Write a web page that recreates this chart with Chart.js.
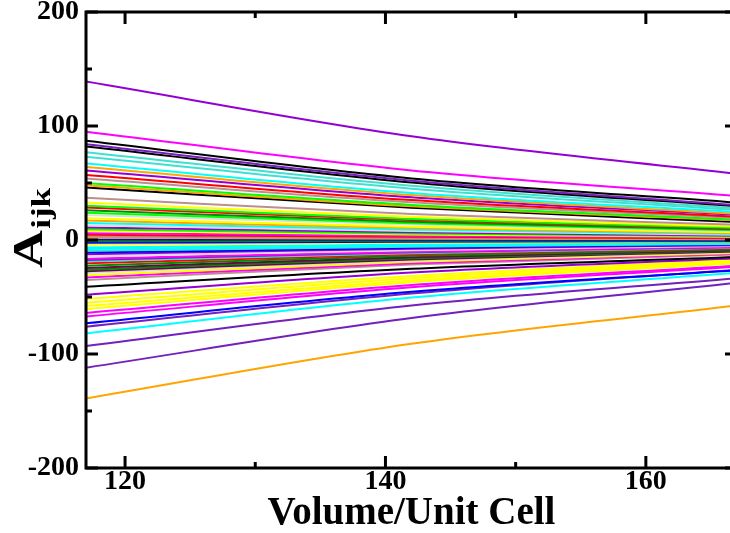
<!DOCTYPE html>
<html>
<head>
<meta charset="utf-8">
<script src="https://cdn.jsdelivr.net/npm/chart.js@4/dist/chart.umd.min.js"></script>
<style>
  html, body { margin: 0; padding: 0; background: #fff; overflow: hidden; width: 730px; height: 533px; }
  #wrap { width: 745px; height: 533px; position: relative; }
</style>
</head>
<body>
<div id="wrap"><canvas id="chart"></canvas></div>
<script>
// Volumes (x) at which each coefficient curve is sampled
const volumes = [117, 142, 167];

// Axis ticks
const xMajorTicks = [120, 140, 160];
const xMinorTicks = [130, 150];
const yMajorTicks = [-200, -100, 0, 100, 200];
const yMinorTicks = [-150, -50, 50, 150];

// Grace-style colour names
const C = {
  black: '#000000', red: '#ff0000', green: '#00ff00', blue: '#0000ff',
  yellow: '#ffff00', brown: '#bc8f8f', grey: '#dcdcdc', violet: '#9400d3',
  cyan: '#00ffff', magenta: '#ff00ff', orange: '#ffa500', indigo: '#7221bc',
  maroon: '#670748', turquoise: '#40e0d0', green4: '#008b00'
};

// One entry per curve
const curveColors = [
  C.violet, C.magenta, C.black, C.indigo, C.black, C.turquoise, C.turquoise, C.cyan,
  C.orange, C.violet, C.red, C.brown, C.green, C.orange, C.black, C.brown,
  C.yellow, C.green, C.red, C.green4, C.green, C.grey, C.yellow, C.orange,
  C.cyan, C.grey, C.violet, C.green, C.yellow, C.magenta, C.red, C.brown,
  C.orange, C.blue, C.green4, C.blue, C.yellow, C.cyan, C.cyan, C.turquoise,
  C.blue, C.violet, C.grey, C.magenta, C.indigo, C.turquoise, C.red, C.green4,
  C.maroon, C.green4, C.maroon, C.grey, C.yellow, C.magenta, C.brown, C.black,
  C.violet, C.yellow, C.yellow, C.yellow, C.yellow, C.magenta, C.magenta, C.blue,
  C.indigo, C.cyan, C.indigo, C.indigo, C.orange
];

// A_ijk at V = 117
const aAt117 = [
  139, 95, 87, 84, 82, 77, 73, 67,
  64, 61, 57, 54, 50, 48, 46, 37,
  33, 30, 28.5, 26, 24, 22, 19, 17,
  15, 13, 11, 9.5, 8, 6, 4.5, 3,
  2, 0.5, -1, -2.5, -4, -6.5, -8, -9.5,
  -11, -12.5, -14.5, -16.5, -17.5, -18.8, -20.5, -22.5,
  -24.5, -26, -27.5, -29, -31, -33, -35, -41,
  -48, -51.5, -55, -58, -60.5, -64, -67, -73,
  -76, -82, -93, -112, -139
];

// A_ijk at V = 142
const aAt142 = [
  91, 61, 54, 52, 50.5, 47.5, 45, 41.2,
  39.4, 37.5, 35, 33.2, 30.8, 29.5, 28.3, 22.8,
  20.3, 18.5, 17.5, 16, 14.8, 13.5, 11.7, 10.5,
  9.2, 8, 6.8, 5.8, 4.9, 3.7, 2.8, 1.8,
  1.2, 0.3, -0.6, -1.6, -2.5, -4, -5, -5.9,
  -6.8, -7.7, -9, -10.2, -10.8, -11.6, -12.6, -13.9,
  -15.1, -16, -17, -17.9, -19.1, -20.3, -21.5, -25.2,
  -28.5, -31.5, -33.5, -35.5, -37, -39.5, -41.5, -45.5,
  -47, -50.5, -57.5, -68.5, -91
];

// A_ijk at V = 167
const aAt167 = [
  58, 38.5, 32.7, 30.6, 29.5, 27.7, 26.3, 24.5,
  23, 22, 20.5, 19.4, 18, 17.3, 15.7, 13.3,
  11.9, 10.8, 10.3, 9.4, 8.6, 7.9, 6.8, 6.1,
  5.4, 4.7, 4, 3.4, 2.9, 2.2, 1.6, 1.1,
  0.7, 0.2, -0.4, -1, -1.5, -2.4, -3, -3.5,
  -4, -4.6, -5.3, -6, -6.4, -6.9, -7.5, -8.2,
  -9, -9.5, -10, -10.6, -11.3, -12, -12.8, -14.9,
  -16, -17, -18.5, -19.5, -20.5, -22.5, -23.5, -26.5,
  -26, -28.8, -33.5, -37.6, -57.5
];

const FONT_FAMILY = '"Liberation Serif", "Times New Roman", Times, serif';

const datasets = curveColors.map((color, i) => ({
  label: 'A' + (i + 1),
  data: volumes.map((v, k) => ({ x: v, y: [aAt117, aAt142, aAt167][k][i] })),
  borderColor: color,
  borderWidth: 2,
  pointRadius: 0,
  fill: false,
  cubicInterpolationMode: 'monotone'
}));

// Closed frame with inward major/minor ticks on all four sides
const frameAndTicks = {
  id: 'frameAndTicks',
  afterDatasetsDraw(chart) {
    const { ctx, chartArea: a, scales: { x, y } } = chart;
    const major = 12, minor = 6;
    ctx.save();
    ctx.strokeStyle = '#000';
    ctx.lineWidth = 3;
    ctx.lineCap = 'butt';
    const seg = (x1, y1, x2, y2) => { ctx.beginPath(); ctx.moveTo(x1, y1); ctx.lineTo(x2, y2); ctx.stroke(); };
    xMajorTicks.forEach(v => { const p = x.getPixelForValue(v); seg(p, a.bottom, p, a.bottom - major); seg(p, a.top, p, a.top + major); });
    xMinorTicks.forEach(v => { const p = x.getPixelForValue(v); seg(p, a.bottom, p, a.bottom - minor); seg(p, a.top, p, a.top + minor); });
    yMajorTicks.forEach(v => { const p = y.getPixelForValue(v); seg(a.left, p, a.left + major, p); seg(a.right, p, a.right - major, p); });
    yMinorTicks.forEach(v => { const p = y.getPixelForValue(v); seg(a.left, p, a.left + minor, p); seg(a.right, p, a.right - minor, p); });
    ctx.strokeRect(a.left, a.top, a.right - a.left, a.bottom - a.top);
    ctx.restore();
  }
};

// Y-axis title with subscript: A_ijk, rotated
const yTitle = {
  id: 'yTitle',
  afterDraw(chart) {
    const ctx = chart.ctx;
    ctx.save();
    ctx.translate(42, 268);
    ctx.rotate(-Math.PI / 2);
    ctx.scale(1.25, 1);
    ctx.fillStyle = '#000';
    ctx.textBaseline = 'alphabetic';
    ctx.font = 'bold 42px ' + FONT_FAMILY;
    ctx.fillText('A', 0, 0);
    const w = ctx.measureText('A').width;
    ctx.font = 'bold 28px ' + FONT_FAMILY;
    ctx.fillText('ijk', w + 1, 8);
    ctx.restore();
  }
};

new Chart(document.getElementById('chart'), {
  type: 'line',
  data: { datasets },
  plugins: [frameAndTicks, yTitle],
  options: {
    responsive: true,
    maintainAspectRatio: false,
    devicePixelRatio: 1,
    animation: false,
    events: [],
    layout: { padding: { top: 12, right: 8, left: 0, bottom: 0 } },
    plugins: { legend: { display: false }, tooltip: { enabled: false } },
    scales: {
      x: {
        type: 'linear',
        min: 117,
        max: 167,
        grid: { display: false, drawTicks: false },
        border: { display: false },
        afterBuildTicks: s => { s.ticks = xMajorTicks.map(v => ({ value: v })); },
        afterFit: s => { s.height = 65; s.paddingLeft = 0; s.paddingRight = 0; },
        ticks: {
          color: '#000',
          padding: 0,
          maxRotation: 0,
          font: { family: FONT_FAMILY, size: 28, weight: 'bold', lineHeight: 1 },
          callback: v => String(v)
        },
        title: {
          display: true,
          text: 'Volume/Unit Cell',
          color: '#000',
          padding: 0,
          font: { family: FONT_FAMILY, size: 39, weight: 'bold', lineHeight: 1 }
        }
      },
      y: {
        type: 'linear',
        min: -200,
        max: 200,
        grid: { display: false, drawTicks: false },
        border: { display: false },
        afterBuildTicks: s => { s.ticks = yMajorTicks.map(v => ({ value: v })); },
        afterFit: s => { s.width = 86; s.paddingTop = 0; s.paddingBottom = 0; },
        ticks: {
          color: '#000',
          padding: 7,
          font: { family: FONT_FAMILY, size: 28, weight: 'bold', lineHeight: 1 },
          callback: v => String(v)
        }
      }
    }
  }
});
</script>
</body>
</html>
